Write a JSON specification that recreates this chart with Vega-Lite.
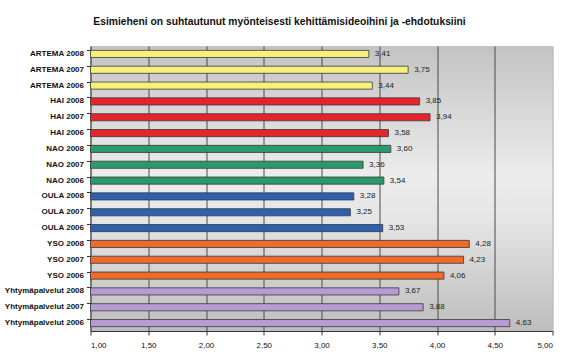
{
  "$schema": "https://vega.github.io/schema/vega-lite/v6.json",
  "width": 462,
  "height": 285,
  "autosize": {"type": "none"},
  "padding": {"left": 90.5, "top": 46, "right": 16.5, "bottom": 24},
  "background": "white",
  "config": {
    "locale": {"number": {"decimal": ",", "thousands": " ", "grouping": [3], "currency": ["", " €"]}},
    "font": "Liberation Sans",
    "view": {
      "stroke": null,
      "fill": {
        "gradient": "linear",
        "x1": 0, "y1": 0, "x2": 0, "y2": 1,
        "stops": [
          {"offset": 0, "color": "#c3c3c3"},
          {"offset": 0.45, "color": "#ececec"},
          {"offset": 0.6, "color": "#e6e6e6"},
          {"offset": 1, "color": "#bdbdbd"}
        ]
      }
    }
  },
  "title": {
    "text": "Esimieheni on suhtautunut myönteisesti kehittämisideoihini ja -ehdotuksiini",
    "fontSize": 10.3,
    "fontWeight": "bold",
    "font": "Liberation Sans",
    "color": "#111",
    "anchor": "middle",
    "dx": -42,
    "baseline": "alphabetic",
    "offset": 11
  },
  "data": {
    "values": [
      {"label": "ARTEMA 2008", "group": "ARTEMA", "value": 3.41},
      {"label": "ARTEMA 2007", "group": "ARTEMA", "value": 3.75},
      {"label": "ARTEMA 2006", "group": "ARTEMA", "value": 3.44},
      {"label": "HAI 2008", "group": "HAI", "value": 3.85},
      {"label": "HAI 2007", "group": "HAI", "value": 3.94},
      {"label": "HAI 2006", "group": "HAI", "value": 3.58},
      {"label": "NAO 2008", "group": "NAO", "value": 3.60},
      {"label": "NAO 2007", "group": "NAO", "value": 3.36},
      {"label": "NAO 2006", "group": "NAO", "value": 3.54},
      {"label": "OULA 2008", "group": "OULA", "value": 3.28},
      {"label": "OULA 2007", "group": "OULA", "value": 3.25},
      {"label": "OULA 2006", "group": "OULA", "value": 3.53},
      {"label": "YSO 2008", "group": "YSO", "value": 4.28},
      {"label": "YSO 2007", "group": "YSO", "value": 4.23},
      {"label": "YSO 2006", "group": "YSO", "value": 4.06},
      {"label": "Yhtymäpalvelut 2008", "group": "Yhtymäpalvelut", "value": 3.67},
      {"label": "Yhtymäpalvelut 2007", "group": "Yhtymäpalvelut", "value": 3.88},
      {"label": "Yhtymäpalvelut 2006", "group": "Yhtymäpalvelut", "value": 4.63}
    ]
  },
  "encoding": {
    "y": {
      "field": "label",
      "type": "nominal",
      "sort": null,
      "scale": {"paddingInner": 0.55, "paddingOuter": 0.275},
      "axis": {
        "title": null,
        "labelFontSize": 8,
        "labelFontWeight": "bold",
        "labelColor": "#111",
        "labelPadding": 3,
        "domainColor": "#333",
        "tickColor": "#333",
        "tickSize": 4,
        "bandPosition": 0,
        "grid": false
      }
    }
  },
  "layer": [
    {
      "mark": {"type": "bar", "stroke": "#3a3a3a", "strokeWidth": 0.8},
      "encoding": {
        "x": {
          "field": "value",
          "type": "quantitative",
          "scale": {"domain": [1, 5], "nice": false, "zero": false},
          "axis": {
            "title": null,
            "values": [1, 1.5, 2, 2.5, 3, 3.5, 4, 4.5, 5],
            "format": ".2f",
            "labelFontSize": 8,
            "labelColor": "#111",
            "labelPadding": 6,
            "domainColor": "#333",
            "tickColor": "#333",
            "tickSize": 4,
            "grid": true,
            "gridColor": {"condition": {"test": "datum.value == 5 || datum.value == 1", "value": "#a0a0a0"}, "value": "#4a4a4a"},
            "gridWidth": 1
          }
        },
        "x2": {"datum": 1},
        "color": {
          "field": "group",
          "type": "nominal",
          "legend": null,
          "scale": {
            "domain": ["ARTEMA", "HAI", "NAO", "OULA", "YSO", "Yhtymäpalvelut"],
            "range": ["#f6f07c", "#e6242b", "#2c9a68", "#2c60b0", "#f06a2c", "#b79bd3"]
          }
        }
      }
    },
    {
      "mark": {"type": "text", "align": "left", "dx": 6, "fontSize": 8, "color": "#222"},
      "encoding": {
        "x": {"field": "value", "type": "quantitative"},
        "text": {"field": "value", "type": "quantitative", "format": ".2f"}
      }
    }
  ]
}
